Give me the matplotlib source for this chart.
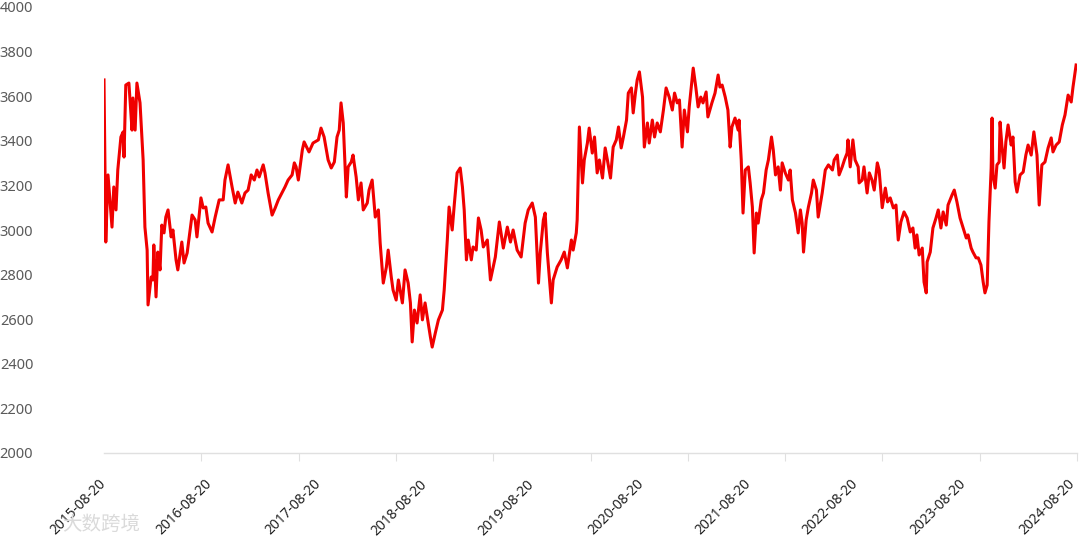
import matplotlib
matplotlib.use("Agg")
import matplotlib.pyplot as plt
from matplotlib.ticker import FixedLocator

plt.rcParams["font.family"] = ["Noto Sans", "Noto Sans CJK SC", "DejaVu Sans"]

# trading-day index since 2015-08-20 and index level
day = [
    0, 4, 9, 18, 22, 27, 31, 38, 43, 45, 49, 56, 63, 65, 70, 74, 81, 88, 92, 97,
    99, 106, 110, 112, 117, 121, 126, 130, 135, 139, 144, 151, 155, 162, 166, 175,
    180, 187, 198, 205, 209, 218, 223, 229, 234, 243, 250, 259, 268, 272, 279, 288,
    295, 301, 310, 317, 324, 331, 338, 344, 349, 358, 362, 369, 378, 385, 392, 400,
    407, 414, 423, 428, 432, 437, 446, 450, 461, 470, 482, 488, 495, 504, 511, 518,
    524, 529, 533, 538, 545, 549, 556, 560, 567, 572, 578, 583, 592, 596, 603, 610,
    617, 621, 628, 635, 639, 646, 650, 657, 662, 666, 671, 677, 684, 689, 693, 698,
    704, 711, 716, 722, 729, 734, 738, 745, 752, 761, 765, 772, 776, 783, 788, 794,
    801, 806, 810, 815, 819, 826, 830, 837, 842, 848, 853, 862, 869, 880, 889, 898,
    907, 914, 920, 929, 938, 947, 954, 963, 970, 977, 981, 988, 992, 997, 1006, 1010,
    1019, 1028, 1035, 1042, 1051, 1055, 1062, 1064, 1069, 1076, 1080, 1087, 1091, 1098,
    1103, 1109, 1114, 1121, 1127, 1132, 1139, 1145, 1152, 1157, 1163, 1168, 1175, 1179,
    1186, 1190, 1195, 1199, 1204, 1211, 1215, 1222, 1226, 1233, 1238, 1244, 1251, 1258,
    1264, 1271, 1278, 1283, 1289, 1294, 1300, 1305, 1312, 1316, 1325, 1331, 1336, 1342,
    1347, 1354, 1358, 1367, 1374, 1381, 1385, 1390, 1397, 1403, 1408, 1412, 1419, 1426,
    1428, 1433, 1437, 1442, 1449, 1453, 1458, 1462, 1467, 1471, 1478, 1483, 1489, 1494,
    1501, 1505, 1510, 1516, 1521, 1525, 1532, 1539, 1543, 1548, 1555, 1561, 1566, 1570,
    1573, 1579, 1584, 1591, 1595, 1602, 1606, 1615, 1622, 1629, 1638, 1642, 1649, 1653,
    1660, 1665, 1671, 1673, 1678, 1684, 1689, 1696, 1698, 1705, 1709, 1716, 1721, 1727,
    1732, 1739, 1743, 1750, 1757, 1762, 1768, 1775, 1781, 1786, 1792, 1799, 1806, 1813,
    1819, 1824, 1828, 1833, 1840, 1844, 1849, 1851, 1858, 1864, 1871, 1876, 1882, 1887,
    1894, 1898, 1907, 1912, 1918, 1925, 1932, 1939, 1943, 1950, 1954, 1961, 1966, 1972,
    1977, 1981, 1986, 1990, 1995, 1997, 1999, 2004, 2008, 2013, 2015, 2019, 2024, 2028,
    2033, 2040, 2044, 2049, 2053, 2060, 2067, 2073, 2078, 2085, 2091, 2098, 2103, 2109,
    2116, 2123, 2130, 2134, 2141, 2148, 2155, 2161, 2168, 2175, 2179, 2186,
]
value = [
    3673, 2946, 3247, 3013, 3193, 3090, 3269, 3417, 3440, 3327, 3650, 3659, 3448, 3592, 3448, 3659, 3570, 3314, 3013, 2910,
    2664, 2789, 2776, 2933, 2700, 2901, 2821, 3022, 2987, 3058, 3090, 2969, 3000, 2866, 2821, 2946,
    2852, 2897, 3067, 3045, 2969, 3144, 3099, 3103, 3031, 2991, 3058, 3135, 3135, 3224, 3292, 3193,
    3121, 3170, 3121, 3166, 3179, 3247, 3224, 3269, 3238, 3292, 3256, 3166, 3067, 3099, 3135, 3166,
    3193, 3224, 3247, 3301, 3283, 3224, 3359, 3395, 3350, 3390, 3404, 3457, 3417, 3314, 3278, 3305,
    3417, 3448, 3570, 3480, 3148, 3283, 3305, 3336, 3238, 3135, 3211, 3090, 3121, 3179, 3224, 3058,
    3090, 2942, 2762, 2834, 2910, 2789, 2731, 2686, 2776, 2731, 2673, 2821, 2762, 2673, 2498, 2641,
    2583, 2709, 2597, 2673, 2583, 2520, 2475, 2538, 2597, 2641, 2731, 2955, 3103, 3000, 3121, 3256,
    3278, 3193, 3090, 2866, 2955, 2866, 2924, 2910, 3054, 3000, 2924, 2955, 2776, 2879, 3036, 2919,
    3013, 2946, 3000, 2910, 2879, 3031, 3090, 3121, 3058, 2762, 2897, 3045, 3076, 2897, 2673, 2776,
    2834, 2866, 2901, 2830, 2955, 2910, 2987, 3045, 3462, 3211, 3314, 3390, 3457, 3345,
    3417, 3256, 3314, 3233, 3368, 3314, 3233, 3372, 3404, 3462, 3368, 3417, 3493, 3614,
    3637, 3525, 3614, 3673, 3709, 3596, 3372, 3480, 3390, 3493, 3417, 3480, 3440, 3538,
    3637, 3596, 3538, 3614, 3570, 3583, 3372, 3538, 3440, 3552, 3726, 3637, 3552, 3596,
    3570, 3619, 3507, 3570, 3614, 3695, 3641, 3650, 3596, 3538, 3372, 3462, 3502, 3448,
    3493, 3314, 3076, 3269, 3283, 3211, 3103, 2897, 3076, 3031, 3135, 3166, 3269, 3314,
    3417, 3359, 3247, 3283, 3179, 3301, 3256, 3224, 3269, 3135, 3076, 2987, 3090, 3031,
    2901, 3045, 3103, 3166, 3224, 3179, 3058, 3166, 3269, 3292, 3269, 3314, 3336, 3247,
    3283, 3314, 3345, 3404, 3283, 3404, 3314, 3283, 3211, 3224, 3283, 3166, 3256, 3224,
    3179, 3301, 3269, 3100, 3188, 3126, 3144, 3099, 3112, 2955, 3036, 3081, 3054, 2991,
    3009, 2919, 2978, 2888, 2919, 2767, 2718, 2857, 2901, 3009, 3054, 3090, 3009, 3081,
    3022, 3112, 3157, 3179, 3126, 3054, 3009, 2964, 2978, 2919, 2901, 2875, 2875, 2843,
    2767, 2718, 2753, 3036, 3278, 3502, 3247, 3188, 3292, 3305, 3484, 3381, 3278, 3395,
    3471, 3381, 3417, 3215, 3170, 3247, 3260, 3336, 3381, 3336, 3440, 3336, 3112, 3292,
    3305, 3368, 3413, 3350, 3381, 3395, 3471, 3516, 3605, 3574, 3641, 3740,
]

label_days = [0, 238, 483, 721, 962, 1210, 1450, 1691, 1934, 2178]
labels = ["2015-08-20", "2016-08-20", "2017-08-20", "2018-08-20", "2019-08-20",
          "2020-08-20", "2021-08-20", "2022-08-20", "2023-08-20", "2024-08-20"]
tick_days = [0, 219, 438, 656, 875, 1094, 1313, 1532, 1750, 1969, 2188]
y_ticks = list(range(2000, 4001, 200))

fig = plt.figure(figsize=(10.8, 5.44), dpi=100)
ax = fig.add_axes([104 / 1080, 1 - 453 / 544, 973 / 1080, 446 / 544])

ax.plot(day, value, color="#f00000", lw=2.2, solid_joinstyle="round")

ax.set_xlim(0, 2188)
ax.set_ylim(2000, 4000)

for s in ("top", "right", "left"):
    ax.spines[s].set_visible(False)
ax.spines["bottom"].set_color("#e0e0e0")
ax.spines["bottom"].set_linewidth(1.0)

ax.set_yticks(y_ticks)
ax.set_yticklabels([str(v) for v in y_ticks])
ax.tick_params(axis="y", length=0, pad=51, labelsize=10.5, labelcolor="#5a5a5a")
for t in ax.get_yticklabels():
    t.set_horizontalalignment("right")

ax.set_xticks(label_days)
ax.set_xticklabels(labels, rotation=45, ha="right", va="center",
                   rotation_mode="anchor")
ax.tick_params(axis="x", which="major", length=0, pad=21, labelsize=10,
               labelcolor="#222222")
ax.xaxis.set_minor_locator(FixedLocator(tick_days))
ax.tick_params(axis="x", which="minor", length=6, width=0.8, color="#e0e0e0")

# faint watermark in the lower left
fig.text(62 / 1080, 1 - 524 / 544, "大数跨境", fontsize=14, color="#dadada",
         family=["Noto Sans CJK SC", "DejaVu Sans"], va="center", ha="left",
         zorder=0)

fig.savefig("out.png", dpi=100)
